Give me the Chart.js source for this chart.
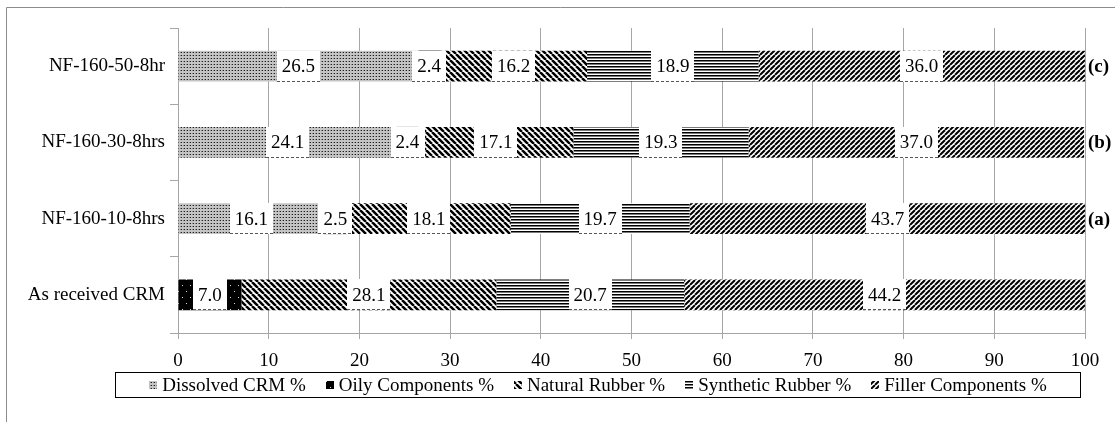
<!DOCTYPE html>
<html>
<head>
<meta charset="utf-8">
<script src="https://cdn.jsdelivr.net/npm/chart.js@4.4.1/dist/chart.umd.min.js"></script>
<style>
  html, body { margin: 0; padding: 0; background: #fff; }
  #wrap { width: 1115px; height: 422px; }
</style>
</head>
<body>
<div id="wrap"><canvas id="compChart" width="1115" height="422"></canvas></div>
<script>
// --- data ---
const categories = ['NF-160-50-8hr', 'NF-160-30-8hrs', 'NF-160-10-8hrs', 'As received CRM'];
const tagLabels = ['(c)', '(b)', '(a)', ''];
const seriesNames = ['Dissolved CRM %', 'Oily Components %', 'Natural Rubber %', 'Synthetic Rubber %', 'Filler Components %'];
const dissolved = [26.5, 24.1, 16.1, 0];
const oily = [2.4, 2.4, 2.5, 7.0];
const natural = [16.2, 17.1, 18.1, 28.1];
const synthetic = [18.9, 19.3, 19.7, 20.7];
const filler = [36.0, 37.0, 43.7, 44.2];
const xMin = 0, xMax = 100, xStep = 10;

const FONT = "'Liberation Serif', 'Times New Roman', serif";
const GRID = '#a6a6a6';

// --- fill patterns ---
function makePattern(w, h, paint) {
    const c = document.createElement('canvas');
    c.width = w;
    c.height = h;
    const g = c.getContext('2d');
    paint(g, w, h);
    return g.createPattern(c, 'repeat');
}

function diagonal(s, lw, up) {
    return makePattern(s, s, (g) => {
        g.fillStyle = '#fff';
        g.fillRect(0, 0, s, s);
        g.strokeStyle = '#000';
        g.lineWidth = lw;
        g.beginPath();
        for (const k of [-1, 0, 1]) {
            if (up) {
                g.moveTo(k * s, s);
                g.lineTo(k * s + s, 0);
            } else {
                g.moveTo(k * s, 0);
                g.lineTo(k * s + s, s);
            }
        }
        g.stroke();
    });
}

const dotFill = makePattern(3, 3, (g) => {
    g.fillStyle = '#c4c4c4';
    g.fillRect(0, 0, 3, 3);
    g.fillStyle = '#1e1e1e';
    g.fillRect(1, 1, 1, 1);
    g.fillStyle = '#8a8a8a';
    g.fillRect(0, 1, 1, 1);
});

const oilyFill = makePattern(8, 12, (g) => {
    g.fillStyle = '#000';
    g.fillRect(0, 0, 8, 12);
    g.fillStyle = '#ddd';
    g.fillRect(2, 3, 1, 1);
    g.fillRect(6, 9, 1, 1);
});

const naturalFill = diagonal(6, 2.5, false);
const fillerFill = diagonal(5, 2, true);

const syntheticFill = makePattern(2, 3, (g) => {
    g.fillStyle = '#000';
    g.fillRect(0, 0, 2, 1);
    g.fillStyle = '#7a7a7a';
    g.fillRect(0, 1, 2, 1);
    g.fillStyle = '#fff';
    g.fillRect(0, 2, 2, 1);
});

const fills = [dotFill, oilyFill, naturalFill, syntheticFill, fillerFill];
const values = [dissolved, oily, natural, synthetic, filler];

// frame around the whole figure
const framePlugin = {
    id: 'frame',
    beforeDraw(chart) {
        const ctx = chart.ctx;
        ctx.save();
        ctx.fillStyle = '#fff';
        ctx.fillRect(0, 0, chart.width, chart.height);
        ctx.strokeStyle = '#8c8c8c';
        ctx.lineWidth = 1;
        ctx.beginPath();
        ctx.moveTo(6.5, chart.height);
        ctx.lineTo(6.5, 7.5);
        ctx.lineTo(chart.width, 7.5);
        ctx.stroke();
        ctx.restore();
    }
};

// white boxed value labels + (a)/(b)/(c) tags
const labelPlugin = {
    id: 'segLabels',
    afterDatasetsDraw(chart) {
        const ctx = chart.ctx;
        ctx.save();
        ctx.font = '19px ' + FONT;
        ctx.textAlign = 'center';
        ctx.textBaseline = 'middle';
        chart.data.datasets.forEach((ds, di) => {
            const meta = chart.getDatasetMeta(di);
            meta.data.forEach((bar, i) => {
                const v = ds.data[i];
                if (!v) return;
                const txt = v.toFixed(1);
                const cx = (bar.x + bar.base) / 2;
                const w = ctx.measureText(txt).width + 10;
                const top = bar.y - bar.height / 2;
                ctx.fillStyle = '#fff';
                ctx.fillRect(Math.round(cx - w / 2), Math.round(top), Math.round(w), Math.round(bar.height));
                ctx.strokeStyle = '#555';
                ctx.setLineDash([3, 2]);
                ctx.beginPath();
                ctx.moveTo(Math.round(cx - w / 2), Math.round(top + bar.height) - 0.5);
                ctx.lineTo(Math.round(cx + w / 2), Math.round(top + bar.height) - 0.5);
                ctx.stroke();
                ctx.setLineDash([]);
                ctx.fillStyle = '#000';
                ctx.fillText(txt, cx, bar.y + 1);
            });
        });
        // tags on the right
        const last = chart.getDatasetMeta(chart.data.datasets.length - 1);
        ctx.font = 'bold 19px ' + FONT;
        ctx.textAlign = 'left';
        last.data.forEach((bar, i) => {
            if (tagLabels[i]) ctx.fillText(tagLabels[i], chart.chartArea.right + 3, bar.y + 1);
        });
        ctx.restore();
    }
};

// boxed legend under the axis
const legendPlugin = {
    id: 'boxLegend',
    afterDraw(chart) {
        const ctx = chart.ctx;
        const box = { x: 115.5, y: 372.5, w: 965, h: 25 };
        ctx.save();
        ctx.strokeStyle = '#000';
        ctx.lineWidth = 1;
        ctx.strokeRect(box.x, box.y, box.w, box.h);
        ctx.font = '19px ' + FONT;
        ctx.textBaseline = 'middle';
        ctx.textAlign = 'left';
        const sw = 8, sgap = 5, gap = 20;
        const widths = seriesNames.map(n => sw + sgap + ctx.measureText(n).width);
        const total = widths.reduce((a, b) => a + b, 0) + gap * (widths.length - 1);
        let x = box.x + (box.w - total) / 2;
        const cy = box.y + box.h / 2;
        seriesNames.forEach((n, i) => {
            ctx.fillStyle = fills[i];
            ctx.fillRect(Math.round(x), Math.round(cy - 4), sw, sw);
            ctx.fillStyle = '#000';
            ctx.fillText(n, x + sw + sgap, cy + 1);
            x += widths[i] + gap;
        });
        ctx.restore();
    }
};

new Chart(document.getElementById('compChart').getContext('2d'), {
    type: 'bar',
    data: {
        labels: categories,
        datasets: seriesNames.map((name, i) => ({
            label: name,
            data: values[i],
            backgroundColor: fills[i],
            borderWidth: 0,
            barPercentage: 0.406,
            categoryPercentage: 1
        }))
    },
    options: {
        indexAxis: 'y',
        responsive: false,
        animation: false,
        devicePixelRatio: 1,
        layout: {
            padding: { top: 28, right: 30, bottom: 40, left: 0 }
        },
        plugins: {
            legend: { display: false },
            tooltip: { enabled: false }
        },
        scales: {
            x: {
                stacked: true,
                min: xMin,
                max: xMax,
                afterFit(scale) { scale.height = 49; },
                ticks: {
                    stepSize: xStep,
                    color: '#000',
                    padding: 11,
                    font: { family: FONT, size: 19 }
                },
                grid: {
                    color: GRID,
                    tickLength: 6
                },
                border: { color: GRID }
            },
            y: {
                stacked: true,
                afterFit(scale) { scale.width = 178; },
                ticks: {
                    color: '#000',
                    padding: 5,
                    font: { family: FONT, size: 19 }
                },
                grid: {
                    drawOnChartArea: false,
                    color: GRID,
                    tickLength: 8
                },
                border: { color: GRID }
            }
        }
    },
    plugins: [framePlugin, labelPlugin, legendPlugin]
});
</script>
</body>
</html>
